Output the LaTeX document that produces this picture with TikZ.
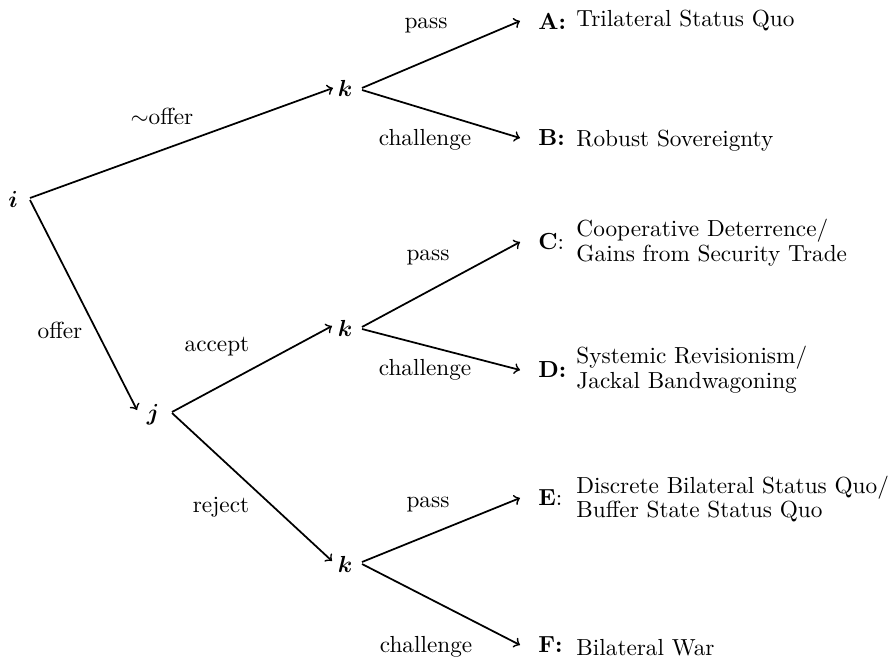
\documentclass[tikz,border=0pt]{standalone}
\usepackage{amsmath}
\begin{document}
\begin{tikzpicture}[x=0.43pt,y=-0.43pt,
  player/.style={anchor=base,inner sep=0pt},
  edge/.style={->,line width=0.75pt},
  lab/.style={inner sep=0pt},
  outc/.style={anchor=west,inner xsep=7.7pt,inner ysep=0pt},
  desc/.style={align=left,inner sep=0pt}]
\useasboundingbox (0,0) rectangle (896,662);
% players
\node[player] (i)  at (13,208)  {$\boldsymbol{i}$};
\node[player] (j)  at (153,420) {$\boldsymbol{j}$};
\node[player] (k1) at (345,97)  {$\boldsymbol{k}$};
\node[player] (k2) at (345,336) {$\boldsymbol{k}$};
\node[player] (k3) at (345,572) {$\boldsymbol{k}$};
% outcomes
\node[outc] (A) at (520,21)  {\textbf{A:}};
\node[outc] (B) at (520,138) {\textbf{B:}};
\node[outc] (C) at (520,242) {\textbf{C}:};
\node[outc] (D) at (520,370) {\textbf{D:}};
\node[outc] (E) at (520,498) {\textbf{E}:};
\node[outc] (F) at (520,645) {\textbf{F:}};
\node[desc,anchor=base west] (Ad) at (576,27)  {Trilateral Status Quo};
\node[desc,anchor=base west] (Bd) at (576,147) {Robust Sovereignty};
\node[desc,anchor=west] (Cd) at (576,243) {Cooperative Deterrence/\\[-1.3pt]Gains from Security Trade};
\node[desc,anchor=west] (Dd) at (576,370) {Systemic Revisionism/\\[-1.3pt]Jackal Bandwagoning};
\node[desc,anchor=west] (Ed) at (576,499) {Discrete Bilateral Status Quo/\\[-1.3pt]Buffer State Status Quo};
\node[desc,anchor=base west] (Fd) at (576,655) {Bilateral War};
% edges
\draw[edge] ([shift={(17,-10)}]i.base) -- ([shift={(-12,-9)}]k1.base);
\draw[edge] ([shift={(17,-8)}]i.base) -- ([shift={(-16,-10)}]j.base);
\draw[edge] ([shift={(19,-8)}]j.base) -- ([shift={(-13,-10)}]k2.base);
\draw[edge] ([shift={(19,-7)}]j.base) -- ([shift={(-13,-11)}]k3.base);
\draw[edge] ([shift={(17,-9)}]k1.base) -- (A.west);
\draw[edge] ([shift={(17,-7)}]k1.base) -- (B.west);
\draw[edge] ([shift={(17,-9)}]k2.base) -- (C.west);
\draw[edge] ([shift={(17,-7)}]k2.base) -- (D.west);
\draw[edge] ([shift={(17,-10)}]k3.base) -- (E.west);
\draw[edge] ([shift={(17,-8)}]k3.base) -- (F.west);
% action labels
\node[lab] (l1) at (162,116) {$\sim$offer};
\node[lab] (l2) at (60,330)  {offer};
\node[lab] (l3) at (426,26)  {pass};
\node[lab] (l4) at (425,140) {challenge};
\node[lab] (l5) at (217,347) {accept};
\node[lab] (l6) at (221,507) {reject};
\node[lab] (l7) at (428,258) {pass};
\node[lab] (l8) at (425,370) {challenge};
\node[lab] (l9) at (428,505) {pass};
\node[lab] (l10) at (426,647) {challenge};
\end{tikzpicture}
\end{document}
